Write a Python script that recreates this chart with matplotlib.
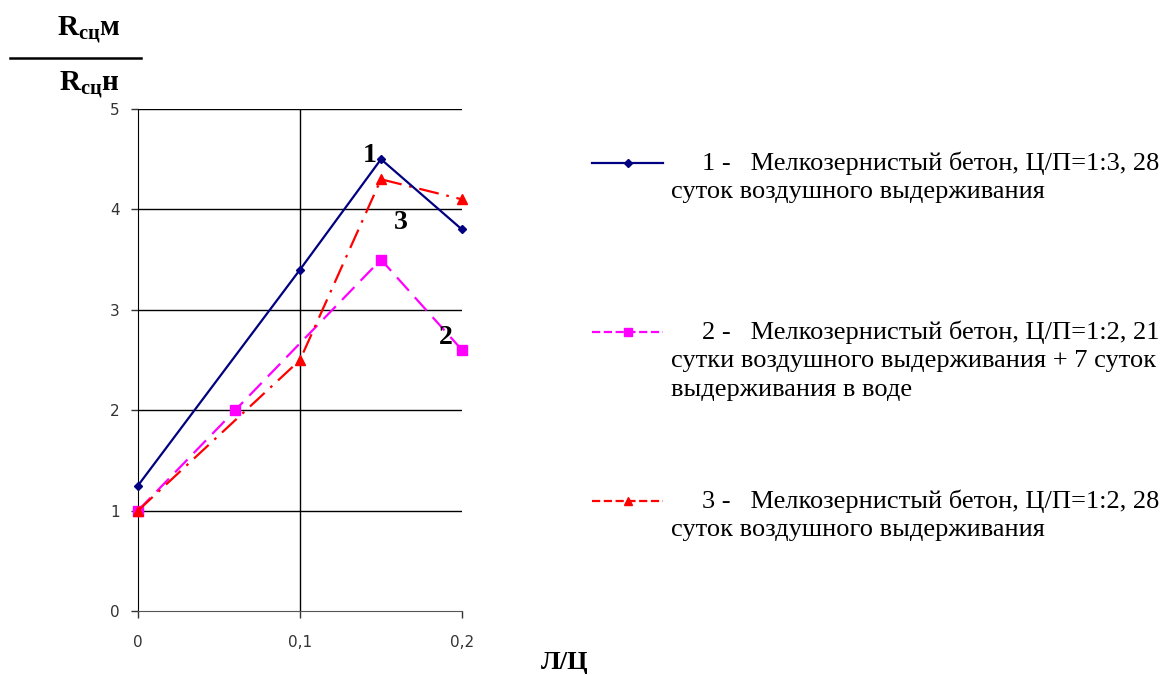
import matplotlib
matplotlib.use("Agg")
import matplotlib.pyplot as plt
from matplotlib.lines import Line2D

plt.rcParams['mathtext.fontset'] = 'custom'
plt.rcParams['mathtext.rm'] = 'Liberation Serif'
plt.rcParams['mathtext.bf'] = 'Liberation Serif:bold'

# data
x1 = [0, 0.1, 0.15, 0.2]
y1 = [1.25, 3.4, 4.5, 3.8]
x2 = [0, 0.06, 0.15, 0.2]
y2 = [1.0, 2.0, 3.5, 2.6]
x3 = [0, 0.1, 0.15, 0.2]
y3 = [1.0, 2.5, 4.3, 4.1]

legend_lines = [
    ["1 -   Мелкозернистый бетон, Ц/П=1:3, 28",
     "суток воздушного выдерживания"],
    ["2 -   Мелкозернистый бетон, Ц/П=1:2, 21",
     "сутки воздушного выдерживания + 7 суток",
     "выдерживания в воде"],
    ["3 -   Мелкозернистый бетон, Ц/П=1:2, 28",
     "суток воздушного выдерживания"],
]
curve_labels = ["1", "2", "3"]
label_pos = [(0.1432, 4.54), (0.1901, 2.72), (0.1623, 3.87)]

W, H = 1161, 675
fig = plt.figure(figsize=(W / 100, H / 100), dpi=100)
ax = fig.add_axes([138 / W, 1 - 611 / H, 324 / W, 502 / H])

serif = 'Liberation Serif'

l1, = ax.plot(x1, y1, color='#000080', lw=1.6, marker='D', ms=4.5, zorder=4, clip_on=False)
l2, = ax.plot(x2, y2, color='#FF00FF', lw=1.6, ls=(0, (8, 4)), marker='s', ms=6.5, zorder=3, clip_on=False)
l3, = ax.plot(x3, y3, color='#FF0000', lw=1.6, ls=(0, (9, 3.5, 1.2, 3.5)), marker='^', ms=6.5, zorder=3, clip_on=False)

ax.set_xlim(0, 0.2)
ax.set_ylim(0, 5)
ax.set_xticks([0, 0.1, 0.2])
ax.set_xticklabels(['0', '0,1', '0,2'])
ax.set_yticks([0, 1, 2, 3, 4, 5])
ax.tick_params(labelsize=11, colors='#333333', length=5, width=1)
ax.tick_params(axis='x', pad=12)
ax.tick_params(axis='y', pad=8)
for sp in ['top', 'right']:
    ax.spines[sp].set_visible(False)
ax.spines['left'].set_color('black')
ax.spines['bottom'].set_color('#555555')
for y in [1, 2, 3, 4, 5]:
    ax.axhline(y, color='black', lw=1, zorder=1)
ax.axvline(0.1, color='black', lw=1, zorder=1)

for t, (px, py) in zip(curve_labels, label_pos):
    ax.text(px, py, t, fontsize=20, fontweight='bold', family=serif,
            ha='center', va='center')

# y-axis label as fraction
fig.text(89 / W, 1 - 30 / H, r'$\mathbf{R}_{\mathbf{сц}}\mathbf{м}$', fontsize=21,
         ha='center', va='center')
fig.add_artist(Line2D([10 / W, 141 / W], [1 - 58 / H, 1 - 58 / H], color='black', lw=1.8))
fig.text(89 / W, 1 - 85 / H, r'$\mathbf{R}_{\mathbf{сц}}\mathbf{н}$', fontsize=21,
         ha='center', va='center')

fig.text(565 / W, 1 - 663 / H, 'Л/Ц', fontsize=19, fontweight='bold', family=serif,
         ha='center', va='center')

# legend
entry_y = [163, 332, 501]
for line, lines, ey in zip([l1, l2, l3], legend_lines, entry_y):
    fy = 1 - ey / H
    fig.add_artist(Line2D([592 / W, 663 / W], [fy, fy], color=line.get_color(),
                          lw=line.get_linewidth(), ls=line.get_linestyle()))
    fig.add_artist(Line2D([628 / W], [fy], color=line.get_color(),
                          marker=line.get_marker(), ms=line.get_markersize() * 0.8, lw=0))
    for i, s in enumerate(lines):
        xx = 702 if i == 0 else 671
        fig.text(xx / W, 1 - (ey + 29 * i) / H, s, fontsize=19, family=serif,
                 ha='left', va='center')

fig.savefig('out.png', dpi=100)
